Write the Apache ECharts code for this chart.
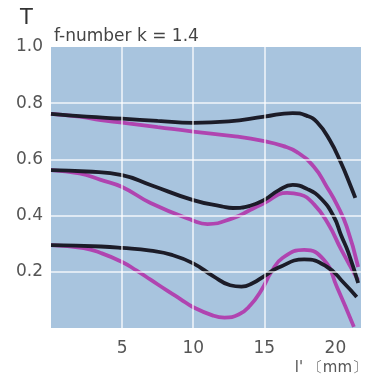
<!DOCTYPE html>
<html>
<head>
<meta charset="utf-8">
<script src="https://cdn.jsdelivr.net/npm/echarts@6/dist/echarts.min.js"></script>
<style>html,body{margin:0;padding:0;background:#fff;}#c{width:376px;height:379px;}</style>
</head>
<body>
<div id="c"></div>
<script>
// ---- data ----
var xTicks = [5, 10, 15, 20];
var yTicks = [0.2, 0.4, 0.6, 0.8, 1.0];

var topBlackX = [0, 2.5, 5, 7.5, 10, 12.5, 15, 17, 18, 18.7, 19.6, 20.4, 21.1, 21.4];
var topBlackY = [0.762, 0.752, 0.745, 0.737, 0.730, 0.735, 0.752, 0.765, 0.755, 0.733, 0.669, 0.587, 0.502, 0.463];

var topMagX = [0, 2, 3.5, 5, 7.5, 10, 12.8, 15, 16.3, 17.3, 18.5, 19.4, 20.1, 20.8, 21.6];
var topMagY = [0.762, 0.752, 0.740, 0.731, 0.715, 0.699, 0.683, 0.665, 0.648, 0.626, 0.573, 0.502, 0.44, 0.36, 0.217];

var midBlackX = [0, 2.5, 5, 7, 10, 12, 12.8, 14, 15, 16, 17, 18, 19, 19.9, 20.4, 20.9, 21.6];
var midBlackY = [0.562, 0.557, 0.544, 0.509, 0.455, 0.433, 0.427, 0.435, 0.456, 0.49, 0.509, 0.495, 0.46, 0.395, 0.33, 0.27, 0.16];

var midMagX = [0, 2, 3.5, 5, 7, 10, 11, 12.8, 14, 15, 16.6, 17.5, 18.5, 19.5, 20.4, 21.6];
var midMagY = [0.562, 0.55, 0.527, 0.502, 0.445, 0.382, 0.37, 0.391, 0.42, 0.445, 0.481, 0.475, 0.44, 0.37, 0.28, 0.17];

var botBlackX = [0, 3.5, 5, 7, 8.5, 10, 11.4, 12.6, 13.4, 14.2, 15, 16, 17.8, 19.4, 20.6, 21.5];
var botBlackY = [0.295, 0.29, 0.285, 0.275, 0.26, 0.23, 0.185, 0.152, 0.147, 0.16, 0.185, 0.215, 0.244, 0.218, 0.16, 0.11];

var botMagX = [0, 2.3, 3.5, 5, 6, 7, 8.2, 9.1, 10, 11.4, 12.2, 13.2, 14, 14.8, 15.5, 16.3, 17.8, 19.2, 20.1, 21.3];
var botMagY = [0.295, 0.284, 0.267, 0.235, 0.205, 0.172, 0.132, 0.103, 0.074, 0.044, 0.037, 0.048, 0.08, 0.135, 0.2, 0.25, 0.278, 0.242, 0.147, 0.004];

var titleText = 'T';
var subText = 'f-number k = 1.4';
var xName = "l' \u3014mm\u3015";

// ---- chart ----
function pairs(xs, ys) { return xs.map(function (x, i) { return [x, ys[i]]; }); }
var BLACK = '#1c1c28', MAG = '#b044b0';
var FONT = 'DejaVu Sans';

function curve(xs, ys, color) {
  return {
    type: 'line', data: pairs(xs, ys), smooth: 0.5, showSymbol: false, symbol: 'none',
    lineStyle: { color: color, width: 3.8 }, z: 3, silent: true, animation: false
  };
}

var chart = echarts.init(document.getElementById('c'), null, { renderer: 'canvas' });
chart.setOption({
  animation: false,
  backgroundColor: '#fff',
  grid: { left: 51, right: 15, top: 47, bottom: 51, show: true, backgroundColor: '#a8c4de', borderWidth: 0 },
  title: [
    { text: titleText, left: 15, top: 3, textStyle: { fontFamily: FONT, fontSize: 21, fontWeight: 'normal', color: '#333' } },
    { text: subText, left: 49, top: 23, textStyle: { fontFamily: FONT, fontSize: 17, fontWeight: 'normal', color: '#444' } }
  ],
  xAxis: {
    type: 'value', min: 0, max: 21.8, interval: 5,
    axisLine: { show: false }, axisTick: { show: false }, splitLine: { show: false },
    axisLabel: {
      showMinLabel: false, showMaxLabel: false, margin: 12,
      fontFamily: FONT, fontSize: 17, color: '#555',
      formatter: function (v) { return xTicks.indexOf(v) >= 0 ? String(v) : ''; }
    }
  },
  yAxis: {
    type: 'value', min: 0, max: 1, interval: 0.2,
    axisLine: { show: false }, axisTick: { show: false }, splitLine: { show: false },
    axisLabel: {
      margin: 8, fontFamily: FONT, fontSize: 17, color: '#555',
      formatter: function (v) {
        for (var i = 0; i < yTicks.length; i++) if (Math.abs(yTicks[i] - v) < 1e-6) return yTicks[i].toFixed(1);
        return '';
      }
    }
  },
  graphic: [
    { type: 'text', right: 9, top: 361, style: { text: xName, font: '15px "DejaVu Sans"', fill: '#555' } }
  ],
  series: [
    {
      type: 'line', data: [], z: 1, silent: true,
      markLine: {
        silent: true, symbol: 'none', label: { show: false }, animation: false,
        lineStyle: { color: 'rgba(255,255,255,0.85)', width: 1.5, type: 'solid' },
        data: xTicks.slice(0, 3).map(function (v) { return { xAxis: v }; })
          .concat(yTicks.slice(0, 4).map(function (v) { return { yAxis: v }; }))
      }
    },
    curve(topMagX, topMagY, MAG),
    curve(midMagX, midMagY, MAG),
    curve(botMagX, botMagY, MAG),
    curve(topBlackX, topBlackY, BLACK),
    curve(midBlackX, midBlackY, BLACK),
    curve(botBlackX, botBlackY, BLACK)
  ]
});
</script>
</body>
</html>
